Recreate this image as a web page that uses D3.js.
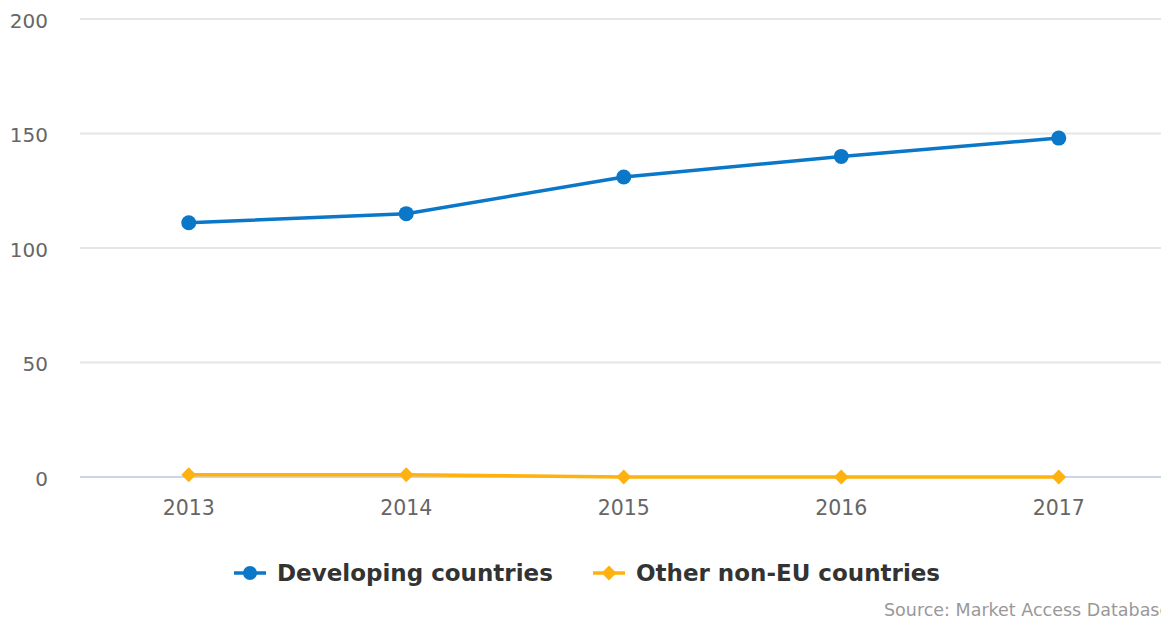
<!DOCTYPE html>
<html><head><meta charset="utf-8">
<script src="https://cdn.jsdelivr.net/npm/d3@7"></script>
<style>html,body{margin:0;padding:0;background:#fff;overflow:hidden}</style>
</head><body>
<svg id="c" width="1161" height="619"></svg>
<script>
const years = ["2013","2014","2015","2016","2017"];
const developing = [111, 115, 131, 140, 148];
const otherNonEU = [1, 1, 0, 0, 0];
const yTicks = [0, 50, 100, 150, 200];
const seriesNames = ["Developing countries", "Other non-EU countries"];
const sourceText = "Source: Market Access Database";

const font = "'DejaVu Sans', Verdana, sans-serif";
const blue = "#0a77c8", orange = "#ffb20f";
const svg = d3.select("#c");
const plotLeft = 80, plotRight = 1167.5, plotTop = 19, plotBottom = 477;

const x = d3.scaleBand().domain(years).range([plotLeft, plotRight]);
const y = d3.scaleLinear().domain([0, 200]).range([plotBottom, plotTop]);
const cx = d => x(d) + x.bandwidth() / 2;

// grid
svg.append("g").selectAll("line").data(yTicks.filter(t => t !== 0)).join("line")
  .attr("x1", plotLeft).attr("x2", 1161).attr("y1", d => y(d)).attr("y2", d => y(d))
  .attr("stroke", "#e6e6e6").attr("stroke-width", 2);
svg.append("line").attr("x1", plotLeft).attr("x2", 1161).attr("y1", y(0)).attr("y2", y(0))
  .attr("stroke", "#ccd6eb").attr("stroke-width", 2);

// y axis labels
const yAxis = d3.axisLeft(y).tickValues(yTicks).tickSize(0).tickPadding(0);
const gy = svg.append("g").attr("transform", "translate(48,0)").call(yAxis);
gy.select(".domain").remove();
gy.selectAll("text").attr("font-family", font).attr("font-size", 20).attr("fill", "#666").attr("dy", "0.42em");

// x axis labels
const xAxis = d3.axisBottom(x).tickSize(0).tickPadding(0);
const gx = svg.append("g").attr("transform", `translate(0,${plotBottom})`).call(xAxis);
gx.select(".domain").remove();
gx.selectAll("text").attr("font-family", font).attr("font-size", 20.5).attr("fill", "#666").attr("y", 38).attr("dy", 0);

// lines
const line = d3.line().x((d, i) => cx(years[i])).y(d => y(d));
svg.append("path").datum(developing).attr("d", line).attr("fill", "none")
  .attr("stroke", blue).attr("stroke-width", 3.5).attr("stroke-linejoin", "round");
svg.append("g").selectAll("circle").data(developing).join("circle")
  .attr("cx", (d, i) => cx(years[i])).attr("cy", d => y(d)).attr("r", 7.5).attr("fill", blue);

svg.append("path").datum(otherNonEU).attr("d", line).attr("fill", "none")
  .attr("stroke", orange).attr("stroke-width", 3.5).attr("stroke-linejoin", "round");
const diamond = d3.symbol().type(d3.symbolSquare).size(110);
svg.append("g").selectAll("path").data(otherNonEU).join("path")
  .attr("d", diamond).attr("transform", (d, i) => `translate(${cx(years[i])},${y(d)}) rotate(45)`)
  .attr("fill", orange);

// legend
const legY = 573;
const leg = [
  {name: seriesNames[0], color: blue, sx: 234, tx: 277, sym: "circle"},
  {name: seriesNames[1], color: orange, sx: 593, tx: 636, sym: "diamond"}
];
leg.forEach(l => {
  svg.append("line").attr("x1", l.sx).attr("x2", l.sx + 32).attr("y1", legY).attr("y2", legY)
    .attr("stroke", l.color).attr("stroke-width", 3.5);
  if (l.sym === "circle") {
    svg.append("circle").attr("cx", l.sx + 16).attr("cy", legY).attr("r", 7).attr("fill", l.color);
  } else {
    svg.append("path").attr("d", diamond).attr("transform", `translate(${l.sx + 16},${legY}) rotate(45)`).attr("fill", l.color);
  }
  svg.append("text").attr("x", l.tx).attr("y", 581).text(l.name)
    .attr("font-family", font).attr("font-size", 23).attr("font-weight", "bold").attr("fill", "#333");
});

svg.append("text").attr("x", 884).attr("y", 615.5).text(sourceText)
  .attr("font-family", font).attr("font-size", 17.5).attr("fill", "#999");
</script>
</body></html>
